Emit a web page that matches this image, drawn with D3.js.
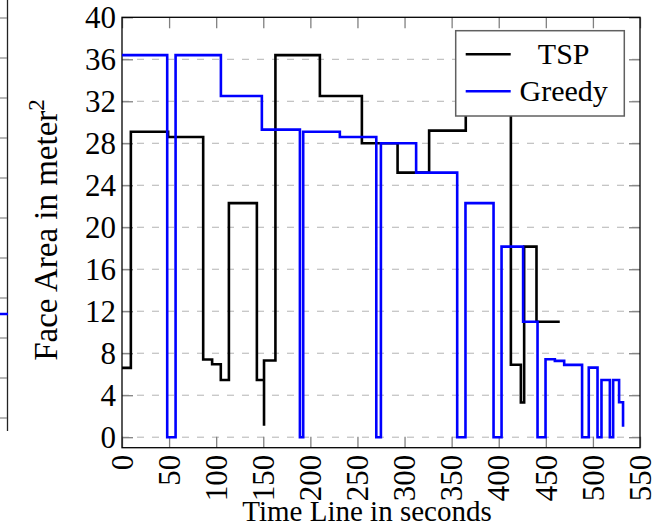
<!DOCTYPE html>
<html>
<head>
<meta charset="utf-8">
<script src="https://cdn.jsdelivr.net/npm/d3@7"></script>
<style>
  body { margin: 0; background: #fff; }
  svg { display: block; font-family: "Liberation Serif", "DejaVu Serif", serif; }
</style>
</head>
<body>
<div id="chart"></div>
<script>
// step data (time in s, face area in m^2)
const tspTime = [0, 9.4, 49, 86.2, 95.7, 104.9, 113.5, 143.2, 150.8, 150.8, 162.9, 210.1, 254.7, 292.6, 326.1, 365, 412.9, 423.5, 427, 440.1, 464.8];
const tspArea = [6.6, 29.1, 28.6, 7.4, 6.95, 5.45, 22.3, 5.45, 1.1, 7.3, 36.4, 32.5, 28.0, 25.2, 29.2, 33, 6.9, 3.3, 18.15, 11.0, 11.0];

const greedyTime = [0, 48, 56.9, 105, 148.5, 188.9, 192.4, 231.3, 270, 274.9, 312.3, 355.9, 364.7, 394.5, 403, 425.9, 441.2, 449.7, 459.6, 469.5, 488.5, 495.6, 504.9, 509.1, 518, 521.5, 527.8, 532];
const greedyArea = [36.4, 0, 36.4, 32.5, 29.3, 0, 29.1, 28.6, 0, 28.0, 25.2, 0, 22.3, 0, 18.15, 11.0, 0, 7.43, 7.27, 6.89, 0, 6.63, 0, 5.45, 0, 5.45, 3.33, 1.0];

const xTicks = d3.range(0, 551, 50);
const yTicks = d3.range(0, 41, 4);
const seriesNames = ["TSP", "Greedy"];
const seriesColors = ["#000000", "#0000ff"];

const W = 668, H = 529;
const margin = { top: 17.3, right: 28, bottom: 81.3, left: 122 };
const width = W - margin.left - margin.right,
    height = H - margin.top - margin.bottom;

const svg = d3.select("#chart")
    .append("svg")
    .attr("width", W)
    .attr("height", H);

// fragment of the neighbouring figure on the far left
const yPrev = d3.scaleLinear().domain([0, 10]).range([418, 18]);
const prev = svg.append("g");
prev.append("line")
    .attr("x1", 7.5).attr("x2", 7.5).attr("y1", 0).attr("y2", 431)
    .attr("stroke", "#222").attr("stroke-width", 1.3);
prev.selectAll("line.pt")
    .data(yPrev.ticks(10))
    .join("line")
    .attr("class", "pt")
    .attr("x1", 0).attr("x2", 7)
    .attr("y1", d => yPrev(d)).attr("y2", d => yPrev(d))
    .attr("stroke", "#888").attr("stroke-width", 1.2);
prev.append("line")
    .attr("x1", 0).attr("x2", 8).attr("y1", yPrev(2.6)).attr("y2", yPrev(2.6))
    .attr("stroke", "#0000ff").attr("stroke-width", 2.5);

const g = svg.append("g")
    .attr("transform", `translate(${margin.left},${margin.top})`);

const x = d3.scaleLinear().domain([0, 550]).range([0, width]);
const y = d3.scaleLinear().domain([-1, 40]).range([height, 0]);

// dashed grid
g.append("g")
    .selectAll("line")
    .data(yTicks.filter(d => d < 40))
    .join("line")
    .attr("x1", 0).attr("x2", width)
    .attr("y1", d => y(d)).attr("y2", d => y(d))
    .attr("stroke", "#b3b3b3")
    .attr("stroke-width", 1)
    .attr("stroke-dasharray", "7,8");

// axes with inward ticks
function styleAxis(sel) {
    sel.select(".domain").remove();
    sel.selectAll(".tick line").attr("stroke", "#808080").attr("stroke-width", 1.3);
    sel.selectAll("text").attr("fill", "#000").style("font-size", "31px")
        .style("font-family", "'Liberation Serif', 'DejaVu Serif', serif");
}

g.append("g")
    .call(d3.axisLeft(y).tickValues(yTicks).tickSizeInner(-11).tickSizeOuter(0).tickPadding(6))
    .call(styleAxis);

g.append("g")
    .attr("transform", `translate(${width},0)`)
    .call(d3.axisRight(y).tickValues(yTicks).tickSizeInner(-11).tickSizeOuter(0).tickFormat(""))
    .call(styleAxis);

g.append("g")
    .call(d3.axisTop(x).tickValues(xTicks).tickSizeInner(-11).tickSizeOuter(0).tickFormat(""))
    .call(styleAxis);

g.append("g")
    .attr("transform", `translate(0,${height})`)
    .call(d3.axisBottom(x).tickValues(xTicks).tickSizeInner(-11).tickSizeOuter(0).tickFormat(d3.format("d")))
    .call(styleAxis)
    .selectAll("text")
    .attr("transform", "rotate(-90)")
    .attr("x", -7)
    .attr("y", 0)
    .attr("dy", "0.33em")
    .style("text-anchor", "end");

// frame
g.append("rect")
    .attr("width", width).attr("height", height)
    .attr("fill", "none").attr("stroke", "#000").attr("stroke-width", 1.3);

// step lines
const line = d3.line()
    .x(d => x(d[0]))
    .y(d => y(d[1]))
    .curve(d3.curveStepAfter);

const series = [d3.zip(tspTime, tspArea), d3.zip(greedyTime, greedyArea)];
g.selectAll("path.series")
    .data(series)
    .join("path")
    .attr("class", "series")
    .attr("d", line)
    .attr("fill", "none")
    .attr("stroke", (d, i) => seriesColors[i])
    .attr("stroke-width", 2.6)
    .attr("stroke-linejoin", "miter");

// legend
const legend = svg.append("g").attr("transform", "translate(455.7,30.7)");
legend.append("rect")
    .attr("width", 168.6).attr("height", 85.3)
    .attr("fill", "#fff").attr("stroke", "#606060").attr("stroke-width", 1.5);
const items = legend.selectAll("g.item")
    .data(seriesNames)
    .join("g")
    .attr("transform", (d, i) => `translate(0,${23.5 + i * 37})`);
items.append("line")
    .attr("x1", 10).attr("x2", 55)
    .attr("stroke", (d, i) => seriesColors[i])
    .attr("stroke-width", 2.6);
items.append("text")
    .attr("x", 108)
    .attr("y", 10)
    .attr("text-anchor", "middle")
    .style("font-size", "30px")
    .text(d => d);

// axis titles
svg.append("text")
    .attr("transform", "translate(367,521)")
    .attr("text-anchor", "middle")
    .style("font-size", "29px")
    .text("Time Line in seconds");

const yt = svg.append("text")
    .attr("transform", "translate(57,230) rotate(-90)")
    .attr("text-anchor", "middle")
    .style("font-size", "33px");
yt.append("tspan").text("Face Area in meter");
yt.append("tspan").attr("dy", -13).style("font-size", "23px").text("2");
</script>
</body>
</html>
